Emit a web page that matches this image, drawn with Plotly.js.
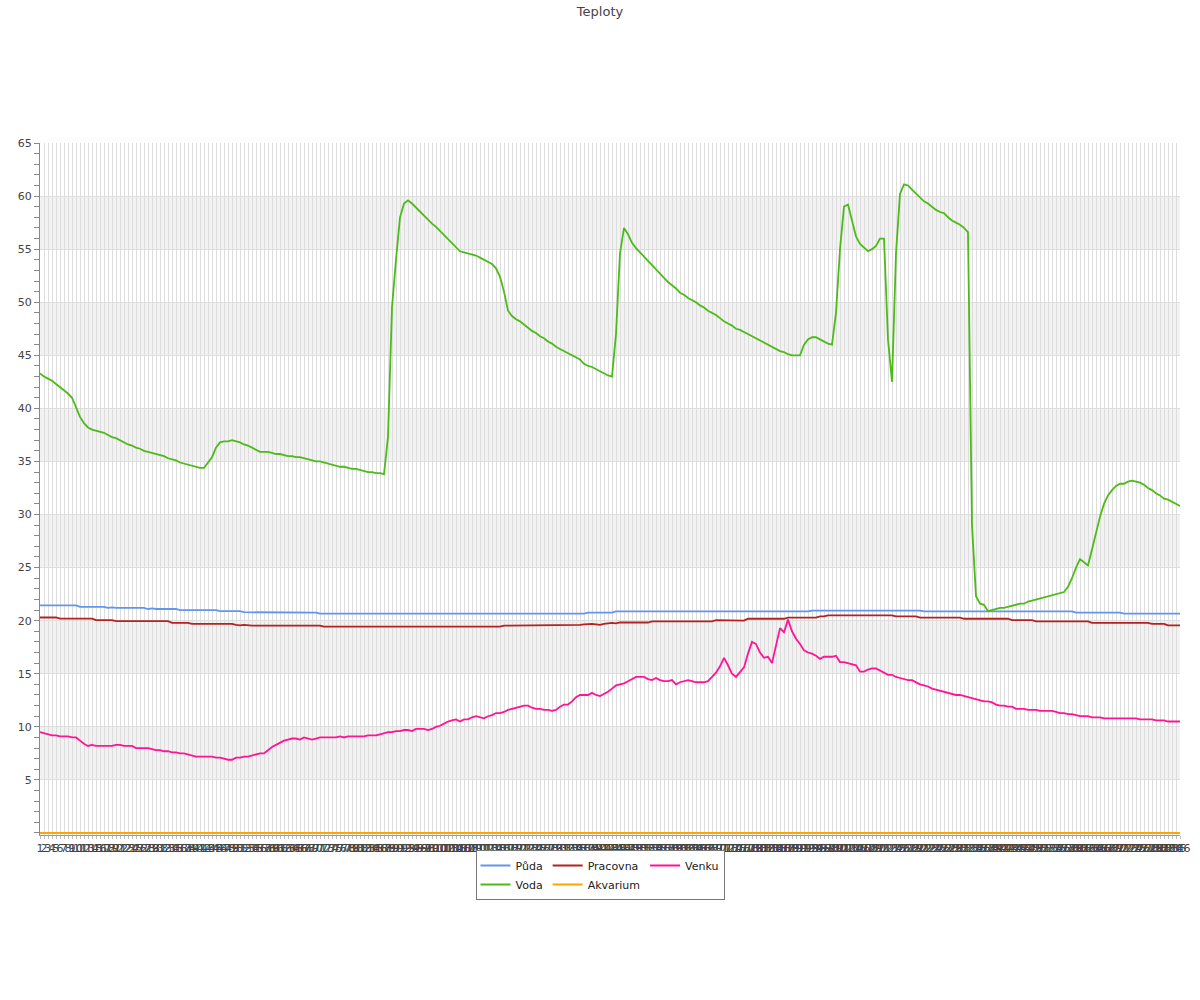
<!DOCTYPE html>
<html>
<head>
<meta charset="utf-8">
<script src="https://cdn.plot.ly/plotly-3.0.1.min.js"></script>
<style>
  html, body { margin: 0; padding: 0; background: #fff; }
  #chart { width: 1200px; height: 1000px; }
</style>
</head>
<body>
<div id="chart"></div>
<script>
// ---------- DATA ----------
const chartTitle = "Teploty";
const seriesNames = ["Půda", "Voda", "Pracovna", "Akvarium", "Venku"];

const puda = [
  21.45,21.45,21.45,21.45,21.45,21.45,21.45,21.45,21.45,21.45,
  21.3,21.3,21.3,21.3,21.3,21.3,21.3,21.2,21.25,21.2,
  21.2,21.2,21.2,21.2,21.2,21.2,21.2,21.1,21.15,21.1,
  21.1,21.1,21.05,21.1,21.1,21.0,21.0,21.0,21.0,21.0,
  21.0,21.0,21.0,21.0,21.0,20.9,20.9,20.9,20.9,20.9,
  20.9,20.8,20.8,20.8,20.8,20.8,20.8,20.8,20.8,20.8,
  20.8,20.8,20.8,20.75,20.75,20.75,20.75,20.75,20.75,20.75,
  20.66,20.66,20.66,20.66,20.66,20.66,20.66,20.66,20.66,20.66,
  20.66,20.66,20.66,20.66,20.66,20.66,20.66,20.66,20.66,20.66,
  20.66,20.6,20.66,20.66,20.6,20.66,20.66,20.66,20.66,20.66,
  20.66,20.66,20.66,20.66,20.66,20.66,20.66,20.66,20.66,20.66,
  20.66,20.66,20.66,20.66,20.66,20.66,20.66,20.66,20.66,20.66,
  20.66,20.66,20.66,20.66,20.66,20.66,20.66,20.66,20.66,20.66,
  20.66,20.66,20.66,20.66,20.66,20.66,20.66,20.75,20.75,20.75,
  20.75,20.75,20.75,20.75,20.88,20.88,20.88,20.88,20.88,20.88,
  20.88,20.88,20.88,20.88,20.88,20.88,20.88,20.88,20.88,20.88,
  20.88,20.88,20.88,20.88,20.88,20.88,20.88,20.88,20.88,20.88,
  20.88,20.88,20.88,20.88,20.88,20.88,20.88,20.88,20.88,20.88,
  20.88,20.88,20.88,20.88,20.88,20.88,20.88,20.88,20.88,20.88,
  20.88,20.82,20.88,20.95,20.95,20.95,20.95,20.95,20.95,20.95,
  20.95,20.95,20.95,20.95,21.0,21.0,21.0,21.0,20.95,20.95,
  20.95,20.95,20.95,20.95,20.95,20.95,20.95,20.95,20.95,20.95,
  20.95,20.88,20.88,20.88,20.88,20.88,20.88,20.88,20.88,20.88,
  20.88,20.88,20.88,20.88,20.88,20.88,20.88,20.88,20.88,20.88,
  20.88,20.88,20.88,20.88,20.88,20.88,20.88,20.88,20.88,20.88,
  20.88,20.88,20.88,20.88,20.88,20.88,20.88,20.88,20.88,20.75,
  20.75,20.75,20.75,20.75,20.75,20.75,20.75,20.75,20.75,20.75,
  20.75,20.66,20.66,20.66,20.66,20.66,20.66,20.66,20.66,20.66,
  20.66,20.66,20.66,20.66,20.66,20.66
];

const voda = [
  43.3,43.0,42.8,42.6,42.3,42.0,41.7,41.4,41.0,40.1,
  39.2,38.6,38.2,38.0,37.9,37.8,37.7,37.5,37.3,37.2,
  37.0,36.8,36.6,36.5,36.3,36.2,36.0,35.9,35.8,35.7,
  35.6,35.5,35.3,35.2,35.1,34.9,34.8,34.7,34.6,34.5,
  34.4,34.4,34.9,35.4,36.3,36.8,36.9,36.9,37.0,36.9,
  36.8,36.6,36.5,36.3,36.1,35.9,35.9,35.9,35.8,35.7,
  35.7,35.6,35.5,35.5,35.4,35.4,35.3,35.2,35.1,35.0,
  35.0,34.9,34.8,34.7,34.6,34.5,34.5,34.4,34.3,34.3,
  34.2,34.1,34.0,34.0,33.9,33.9,33.8,37.3,49.5,54.0,
  58.0,59.3,59.6,59.3,58.9,58.5,58.1,57.7,57.4,57.1,
  56.7,56.3,55.9,55.5,55.1,54.8,54.7,54.6,54.5,54.4,
  54.2,54.0,53.8,53.6,53.2,52.4,51.0,49.2,48.7,48.4,
  48.2,47.9,47.6,47.3,47.1,46.8,46.6,46.3,46.1,45.8,
  45.6,45.4,45.2,45.0,44.8,44.6,44.2,44.0,43.9,43.7,
  43.5,43.3,43.1,43.0,47.0,54.6,57.0,56.4,55.6,55.1,
  54.7,54.2,53.8,53.4,53.0,52.6,52.2,51.9,51.6,51.3,
  50.9,50.7,50.4,50.2,50.0,49.7,49.5,49.2,49.0,48.8,
  48.5,48.2,48.0,47.8,47.5,47.4,47.2,47.0,46.8,46.6,
  46.4,46.2,46.0,45.8,45.6,45.4,45.3,45.1,45.0,45.0,
  45.0,46.0,46.5,46.7,46.7,46.5,46.3,46.1,46.0,49.0,
  55.0,59.0,59.2,57.8,56.2,55.5,55.1,54.8,55.0,55.3,
  56.0,56.0,46.5,42.5,54.6,60.2,61.1,61.0,60.6,60.2,
  59.8,59.5,59.3,59.0,58.7,58.5,58.4,58.0,57.7,57.5,
  57.3,57.0,56.6,29.0,22.3,21.6,21.5,20.9,21.0,21.1,
  21.2,21.2,21.3,21.4,21.5,21.6,21.6,21.8,21.9,22.0,
  22.1,22.2,22.3,22.4,22.5,22.6,22.7,23.2,24.0,25.0,
  25.8,25.5,25.2,26.7,28.3,29.8,31.0,31.8,32.3,32.7,
  32.9,32.9,33.1,33.2,33.1,33.0,32.8,32.5,32.3,32.0,
  31.8,31.5,31.4,31.2,31.0,30.8
];

const pracovna = [
  20.3,20.3,20.3,20.3,20.3,20.2,20.2,20.2,20.2,20.2,
  20.2,20.2,20.2,20.2,20.05,20.05,20.05,20.05,20.05,19.95,
  19.95,19.95,19.95,19.95,19.95,19.95,19.95,19.95,19.95,19.95,
  19.95,19.95,19.95,19.8,19.8,19.8,19.8,19.8,19.7,19.7,
  19.7,19.7,19.7,19.7,19.7,19.7,19.7,19.7,19.7,19.6,
  19.55,19.6,19.55,19.53,19.53,19.53,19.53,19.53,19.53,19.53,
  19.53,19.53,19.53,19.53,19.53,19.53,19.53,19.53,19.53,19.53,
  19.53,19.44,19.44,19.44,19.44,19.44,19.44,19.44,19.44,19.44,
  19.44,19.44,19.44,19.44,19.44,19.44,19.44,19.44,19.44,19.44,
  19.44,19.44,19.44,19.44,19.44,19.44,19.44,19.44,19.44,19.44,
  19.44,19.44,19.44,19.44,19.44,19.44,19.44,19.44,19.44,19.44,
  19.44,19.44,19.44,19.44,19.44,19.44,19.53,19.53,19.53,19.53,
  19.53,19.53,19.53,19.53,19.53,19.53,19.53,19.53,19.53,19.53,
  19.53,19.53,19.53,19.6,19.6,19.6,19.65,19.7,19.7,19.65,
  19.6,19.7,19.75,19.8,19.75,19.83,19.83,19.83,19.83,19.83,
  19.83,19.83,19.83,19.94,19.94,19.94,19.94,19.94,19.94,19.94,
  19.94,19.94,19.94,19.94,19.94,19.94,19.94,19.94,19.94,20.05,
  20.05,20.05,20.0,20.0,20.0,20.0,20.0,20.18,20.18,20.18,
  20.18,20.18,20.18,20.18,20.18,20.18,20.18,20.28,20.28,20.28,
  20.28,20.28,20.28,20.28,20.28,20.4,20.4,20.5,20.5,20.5,
  20.5,20.5,20.5,20.5,20.5,20.5,20.5,20.5,20.5,20.5,
  20.5,20.5,20.5,20.5,20.4,20.4,20.4,20.4,20.4,20.4,
  20.28,20.28,20.28,20.28,20.28,20.28,20.28,20.28,20.28,20.28,
  20.28,20.18,20.18,20.18,20.18,20.18,20.18,20.18,20.18,20.18,
  20.18,20.18,20.18,20.05,20.05,20.05,20.05,20.05,20.05,19.94,
  19.94,19.94,19.94,19.94,19.94,19.94,19.94,19.94,19.94,19.94,
  19.94,19.94,19.94,19.8,19.8,19.8,19.8,19.8,19.8,19.8,
  19.8,19.8,19.8,19.8,19.8,19.8,19.8,19.8,19.7,19.7,
  19.7,19.7,19.55,19.55,19.55,19.55
];

const akvarium = [
  0,0,0,0,0,0,0,0,0,0, 0,0,0,0,0,0,0,0,0,0,
  0,0,0,0,0,0,0,0,0,0, 0,0,0,0,0,0,0,0,0,0,
  0,0,0,0,0,0,0,0,0,0, 0,0,0,0,0,0,0,0,0,0,
  0,0,0,0,0,0,0,0,0,0, 0,0,0,0,0,0,0,0,0,0,
  0,0,0,0,0,0,0,0,0,0, 0,0,0,0,0,0,0,0,0,0,
  0,0,0,0,0,0,0,0,0,0, 0,0,0,0,0,0,0,0,0,0,
  0,0,0,0,0,0,0,0,0,0, 0,0,0,0,0,0,0,0,0,0,
  0,0,0,0,0,0,0,0,0,0, 0,0,0,0,0,0,0,0,0,0,
  0,0,0,0,0,0,0,0,0,0, 0,0,0,0,0,0,0,0,0,0,
  0,0,0,0,0,0,0,0,0,0, 0,0,0,0,0,0,0,0,0,0,
  0,0,0,0,0,0,0,0,0,0, 0,0,0,0,0,0,0,0,0,0,
  0,0,0,0,0,0,0,0,0,0, 0,0,0,0,0,0,0,0,0,0,
  0,0,0,0,0,0,0,0,0,0, 0,0,0,0,0,0,0,0,0,0,
  0,0,0,0,0,0,0,0,0,0, 0,0,0,0,0,0,0,0,0,0,
  0,0,0,0,0,0
];

const venku = [
  9.5,9.4,9.3,9.2,9.2,9.1,9.1,9.1,9.0,9.0,
  8.7,8.4,8.2,8.3,8.2,8.2,8.2,8.2,8.2,8.3,
  8.3,8.2,8.2,8.2,8.0,8.0,8.0,8.0,7.9,7.8,
  7.8,7.7,7.7,7.6,7.6,7.5,7.5,7.4,7.3,7.2,
  7.2,7.2,7.2,7.2,7.1,7.1,7.0,6.9,6.9,7.1,
  7.1,7.2,7.2,7.3,7.4,7.5,7.5,7.8,8.1,8.3,
  8.5,8.7,8.8,8.9,8.9,8.8,9.0,8.9,8.8,8.9,
  9.0,9.0,9.0,9.0,9.0,9.1,9.0,9.1,9.1,9.1,
  9.1,9.1,9.2,9.2,9.2,9.3,9.4,9.5,9.5,9.6,
  9.6,9.7,9.7,9.6,9.8,9.8,9.8,9.7,9.8,10.0,
  10.1,10.3,10.5,10.6,10.7,10.5,10.7,10.7,10.9,11.0,
  10.9,10.8,11.0,11.1,11.3,11.3,11.4,11.6,11.7,11.8,
  11.9,12.0,12.0,11.8,11.7,11.7,11.6,11.6,11.5,11.6,
  11.9,12.1,12.1,12.4,12.8,13.0,13.0,13.0,13.2,13.0,
  12.9,13.1,13.3,13.6,13.9,14.0,14.1,14.3,14.5,14.7,
  14.7,14.7,14.5,14.4,14.6,14.4,14.3,14.3,14.4,14.0,
  14.2,14.3,14.4,14.3,14.2,14.2,14.2,14.3,14.7,15.1,
  15.7,16.5,15.8,15.0,14.7,15.1,15.6,16.9,18.0,17.8,
  17.0,16.5,16.6,16.0,17.6,19.3,18.9,20.1,19.0,18.3,
  17.8,17.2,17.0,16.9,16.7,16.4,16.6,16.6,16.6,16.7,
  16.1,16.1,16.0,15.9,15.8,15.2,15.2,15.4,15.5,15.5,
  15.3,15.1,14.9,14.9,14.7,14.6,14.5,14.4,14.4,14.2,
  14.0,13.9,13.8,13.6,13.5,13.4,13.3,13.2,13.1,13.0,
  13.0,12.9,12.8,12.7,12.6,12.5,12.4,12.4,12.3,12.1,
  12.0,12.0,11.9,11.9,11.7,11.7,11.7,11.6,11.6,11.6,
  11.5,11.5,11.5,11.5,11.4,11.3,11.3,11.2,11.2,11.1,
  11.0,11.0,11.0,10.9,10.9,10.9,10.8,10.8,10.8,10.8,
  10.8,10.8,10.8,10.8,10.8,10.7,10.7,10.7,10.7,10.6,
  10.6,10.6,10.5,10.5,10.5,10.5
];

// category labels (sample numbers 1..N)
const categories = voda.map((_, i) => String(i + 1));
const yTickVals = [5, 10, 15, 20, 25, 30, 35, 40, 45, 50, 55, 60, 65];
const bandStarts = [5, 15, 25, 35, 45, 55];

// ---------- STYLE ----------
const colors = {
  "Půda": "#6495ED",
  "Voda": "#4CBB17",
  "Pracovna": "#B22222",
  "Akvarium": "#FFA500",
  "Venku": "#FF1493"
};
const groups = { "Půda": "g1", "Voda": "g1", "Pracovna": "g2", "Akvarium": "g2", "Venku": "g3" };
const seriesData = { "Půda": puda, "Voda": voda, "Pracovna": pracovna, "Akvarium": akvarium, "Venku": venku };

const traces = seriesNames.map(name => ({
  type: "scatter",
  mode: "lines",
  name: name,
  x: categories,
  y: seriesData[name],
  legendgroup: groups[name],
  line: { color: colors[name], width: name === "Akvarium" ? 2.2 : 1.8 },
  hoverinfo: "x+y+name"
}));

const shapes = bandStarts.map(v => ({
  type: "rect", xref: "paper", yref: "y",
  x0: 0, x1: 1, y0: v, y1: v + 5,
  fillcolor: "#f2f2f2", line: { width: 0 }, layer: "below"
}));

const layout = {
  width: 1200, height: 1000,
  paper_bgcolor: "#ffffff", plot_bgcolor: "#ffffff",
  font: { family: "DejaVu Sans, sans-serif", size: 11, color: "#444" },
  title: {
    text: chartTitle, x: 0.5, xanchor: "center",
    y: 0.989, yanchor: "middle", yref: "container",
    font: { size: 13, color: "#444", family: "DejaVu Sans, sans-serif" }
  },
  margin: { l: 40, r: 20, t: 143, b: 165, pad: 0 },
  showlegend: true,
  legend: {
    orientation: "h",
    traceorder: "grouped",
    tracegroupgap: 0,
    xref: "container", x: 0.5, xanchor: "center",
    yref: "container", y: 0.15, yanchor: "top",
    bordercolor: "#777", borderwidth: 1, bgcolor: "#fff",
    font: { size: 11, color: "#222", family: "DejaVu Sans, sans-serif" },
    itemwidth: 30
  },
  xaxis: {
    type: "category",
    range: [0, categories.length - 1],
    tickmode: "linear", tick0: 0, dtick: 1,
    tickangle: 0,
    showgrid: true, gridcolor: "#dddddd", gridwidth: 1,
    showline: true, linecolor: "#999", linewidth: 1,
    ticks: "outside", ticklen: 3, tickcolor: "#bbb",
    tickfont: { size: 11, color: "#444" },
    automargin: false, zeroline: false, fixedrange: true
  },
  yaxis: {
    range: [-0.19, 65],
    tickmode: "array", tickvals: yTickVals,
    showgrid: true, gridcolor: "#dddddd", gridwidth: 1,
    showline: true, linecolor: "#888", linewidth: 1,
    ticks: "outside", ticklen: 5, tickcolor: "#888",
    minor: { tickmode: "linear", tick0: 0, dtick: 1, ticks: "outside", ticklen: 5, tickcolor: "#888", showgrid: false },
    tickfont: { size: 11, color: "#444" },
    automargin: false, zeroline: false, fixedrange: true
  },
  shapes: shapes
};

Plotly.newPlot("chart", traces, layout, { displayModeBar: false, responsive: false });
</script>
</body>
</html>
